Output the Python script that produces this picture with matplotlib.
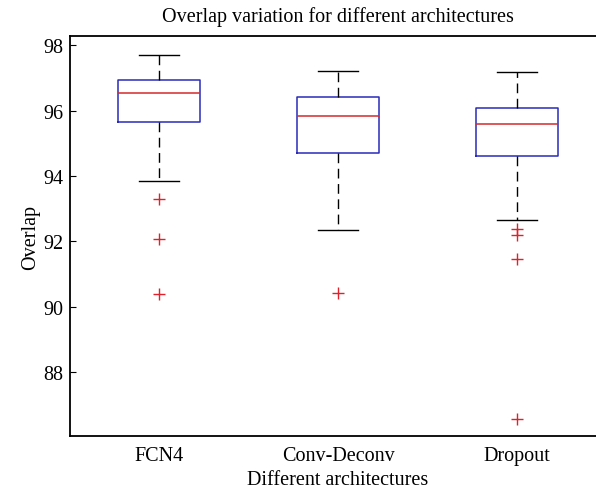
import matplotlib
matplotlib.use("Agg")
import matplotlib.pyplot as plt

# box statistics
labels = ["FCN4", "Conv-Deconv", "Dropout"]
whisker_hi = [97.69, 97.21, 97.18]
q3 = [96.92, 96.42, 96.08]
median = [96.53, 95.82, 95.59]
q1 = [95.66, 94.71, 94.61]
whisker_lo = [93.84, 92.33, 92.65]
outliers = [
    [93.28, 92.08, 90.40],
    [90.43],
    [92.39, 92.19, 91.47, 86.55],
]

plt.rcParams["font.family"] = ["Liberation Serif", "DejaVu Serif"]

stats = []
for i, lab in enumerate(labels):
    stats.append({
        "label": lab,
        "whishi": whisker_hi[i],
        "q3": q3[i],
        "med": median[i],
        "q1": q1[i],
        "whislo": whisker_lo[i],
        "fliers": outliers[i],
    })

fig = plt.figure(figsize=(5.96, 4.89), dpi=100)
ax = fig.add_axes([0.1174, 0.1063, 0.8996, 0.818])

ax.bxp(
    stats,
    positions=[1, 2, 3],
    widths=0.46,
    showfliers=True,
    boxprops=dict(color="#2b2bb8", linewidth=1.1),
    medianprops=dict(color="#d42a2a", linewidth=1.1),
    whiskerprops=dict(color="black", linestyle=(0, (7, 4)), linewidth=1.0),
    capprops=dict(color="black", linewidth=1.0),
    capwidths=0.225,
    flierprops=dict(marker="+", markeredgecolor="#e0202a", markersize=8,
                    markeredgewidth=1.0, linestyle="none"),
)

ax.set_xlim(0.5, 3.5)
ax.set_ylim(86.04, 98.28)
ax.set_yticks([88, 90, 92, 94, 96, 98])
ax.tick_params(axis="y", direction="in", length=4, labelsize=14.5, pad=5)
ax.tick_params(axis="x", length=0, labelsize=14.5, pad=7)
ax.spines["right"].set_visible(False)
for s in ["left", "top", "bottom"]:
    ax.spines[s].set_linewidth(1.3)

ax.set_title("Overlap variation for different architectures", fontsize=14.5, pad=11)
ax.set_xlabel("Different architectures", fontsize=14.5, labelpad=4)
ax.set_ylabel("Overlap", fontsize=14.5, labelpad=2)

fig.savefig("out.png", dpi=100)
